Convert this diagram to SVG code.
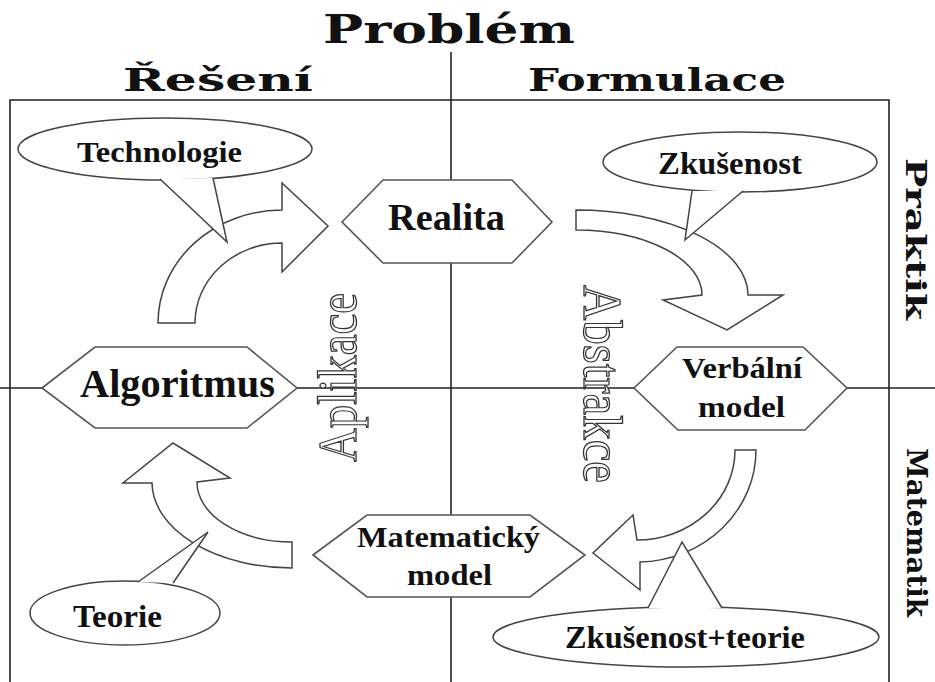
<svg xmlns="http://www.w3.org/2000/svg" width="935" height="682" viewBox="0 0 935 682">
<defs>
<style>
.grid{stroke:#222;stroke-width:1.6;fill:none}
.hex{fill:#fff;stroke:#555;stroke-width:1.6}
.arr{fill:#fff;stroke:#444;stroke-width:1.5;stroke-linejoin:miter}
.bub{fill:#fff;stroke:#444;stroke-width:1.5}
.tail{fill:#fff;stroke:#444;stroke-width:1.5}
.head{font-family:"DejaVu Serif","Liberation Serif",serif;font-weight:bold;fill:#111}
.lbl{font-family:"Liberation Serif","Times New Roman",serif;font-weight:bold;fill:#111;text-anchor:start}
.wa{font-family:"Liberation Serif","Times New Roman",serif;fill:#fff;stroke:#333;stroke-width:1.3}
</style>
</defs>
<rect width="935" height="682" fill="#fff"/>
<g id="grid">
<path class="grid" d="M10,700 V100 H889 V700"/>
<line class="grid" x1="451" y1="52" x2="451" y2="700"/>
<line class="grid" x1="0" y1="388" x2="935" y2="388"/>
</g>
<g id="headers">
<text class="head" x="323" y="43" font-size="40" textLength="252" lengthAdjust="spacingAndGlyphs">Problém</text>
<text class="head" x="123" y="91" font-size="31" textLength="190" lengthAdjust="spacingAndGlyphs">Řešení</text>
<text class="head" x="528" y="91" font-size="31" textLength="258" lengthAdjust="spacingAndGlyphs">Formulace</text>
<text class="head" transform="translate(906,158) rotate(90)" font-size="28" textLength="162" lengthAdjust="spacingAndGlyphs">Praktik</text>
<text class="head" transform="translate(907,448) rotate(90)" font-size="28" textLength="169" lengthAdjust="spacingAndGlyphs">Matematik</text>
</g>
<g id="connectors">
<path class="arr" d="M158,323 A124,113 0 0 1 282,210 L282,183 L328,226 L282,272 L282,243 A87,80 0 0 0 195,323 Z"/>
<path class="arr" d="M576,210 A172,85 0 0 1 748,295 L783,295 L727,330 L663,300 L702,295 A126,65 0 0 0 576,230 Z"/>
<path class="arr" d="M735,450 L756,450 A119,112 0 0 1 640,562 L640,590 L593,553 L633,515 L637,540 A98,90 0 0 0 735,450 Z"/>
<path class="arr" d="M292,542 L292,568 A140,86 0 0 1 152,483 L123,483 L173,443 L230,478 L197,482 A95,60 0 0 0 292,542 Z"/>
</g>
<g id="aplikace">
<text class="wa" transform="translate(356,462) rotate(-90)" font-size="54" textLength="169" lengthAdjust="spacingAndGlyphs">Aplikace</text>
</g>
<g id="abstrakce">
<text class="wa" transform="translate(584,285) rotate(90)" font-size="54" textLength="198" lengthAdjust="spacingAndGlyphs">Abstrakce</text>
</g>
<g id="realita">
<polygon class="hex" points="342,222 383,180 512,180 552,222 512,263 383,263"/>
<text class="lbl" x="388" y="230" font-size="38" textLength="117" lengthAdjust="spacingAndGlyphs">Realita</text>
</g>
<g id="algoritmus">
<polygon class="hex" points="42,388 95,347 247,347 297,388 247,428 95,428"/>
<text class="lbl" x="80" y="397" font-size="39" textLength="195" lengthAdjust="spacingAndGlyphs">Algoritmus</text>
</g>
<g id="verbalni">
<polygon class="hex" points="634,388 677,347 803,347 847,388 805,430 678,430"/>
<text class="lbl" x="682" y="378" font-size="30" textLength="120" lengthAdjust="spacingAndGlyphs">Verbální</text>
<text class="lbl" x="698" y="417" font-size="30" textLength="87" lengthAdjust="spacingAndGlyphs">model</text>
</g>
<g id="matematicky">
<polygon class="hex" points="313,555 367,515 530,515 585,555 530,597 367,597"/>
<text class="lbl" x="357" y="547" font-size="30" textLength="183" lengthAdjust="spacingAndGlyphs">Matematický</text>
<text class="lbl" x="407" y="585" font-size="30" textLength="85" lengthAdjust="spacingAndGlyphs">model</text>
</g>
<g id="technologie">
<ellipse class="bub" cx="165" cy="149" rx="147" ry="31"/>
<path class="tail" d="M160,179 L227,242 L213,178"/>
<text class="lbl" x="77" y="162" font-size="30" textLength="165" lengthAdjust="spacingAndGlyphs">Technologie</text>
</g>
<g id="zkusenost">
<ellipse class="bub" cx="740" cy="162" rx="137" ry="30"/>
<path class="tail" d="M692,191 L685,240 L743,191"/>
<text class="lbl" x="658" y="174" font-size="31" textLength="144" lengthAdjust="spacingAndGlyphs">Zkušenost</text>
</g>
<g id="teorie">
<ellipse class="bub" cx="125" cy="613" rx="95" ry="32"/>
<path class="tail" d="M138,582 L208,532 L173,583"/>
<text class="lbl" x="73" y="627" font-size="31" textLength="89" lengthAdjust="spacingAndGlyphs">Teorie</text>
</g>
<g id="zkusenost-teorie">
<ellipse class="bub" cx="686" cy="637" rx="193" ry="30"/>
<path class="tail" d="M648,608 L682,542 L722,608"/>
<text class="lbl" x="565" y="648" font-size="31" textLength="240" lengthAdjust="spacingAndGlyphs">Zkušenost+teorie</text>
</g>
</svg>
